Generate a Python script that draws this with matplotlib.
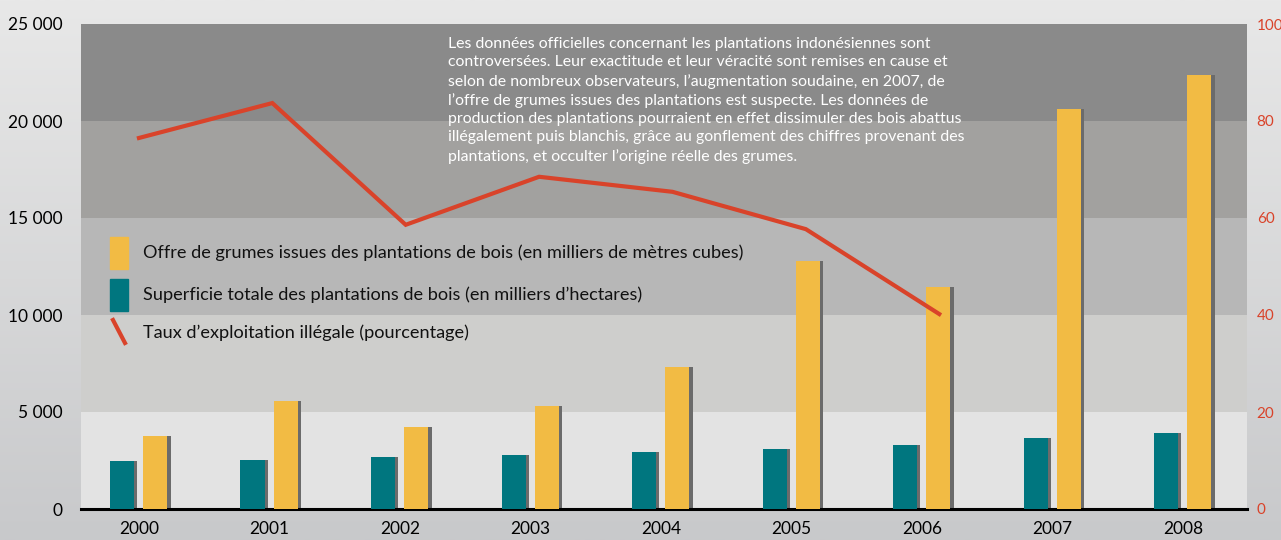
import numpy as np
import matplotlib
matplotlib.use("Agg")
import matplotlib.pyplot as plt
from matplotlib.patches import Rectangle
from matplotlib.lines import Line2D

plt.rcParams['font.family'] = ['Lato', 'DejaVu Sans']

years = ["2000", "2001", "2002", "2003", "2004", "2005", "2006", "2007", "2008"]
superficie = [2480, 2540, 2680, 2780, 2940, 3090, 3300, 3660, 3920]
offre = [3760, 5570, 4230, 5310, 7320, 12780, 11440, 20620, 22370]
taux = [76.5, 83.7, 58.6, 68.5, 65.4, 57.7, 40.2]   # 2000-2006

left_ticks = [0, 5000, 10000, 15000, 20000, 25000]
left_labels = ["0", "5 000", "10 000", "15 000", "20 000", "25 000"]
right_ticks = [0, 20, 40, 60, 80, 100]

note = ("Les données officielles concernant les plantations indonésiennes sont\n"
        "controversées. Leur exactitude et leur véracité sont remises en cause et\n"
        "selon de nombreux observateurs, l\u2019augmentation soudaine, en 2007, de\n"
        "l\u2019offre de grumes issues des plantations est suspecte. Les données de\n"
        "production des plantations pourraient en effet dissimuler des bois abattus\n"
        "illégalement puis blanchis, grâce au gonflement des chiffres provenant des\n"
        "plantations, et occulter l\u2019origine réelle des grumes.")

leg_labels = ["Offre de grumes issues des plantations de bois (en milliers de mètres cubes)",
              "Superficie totale des plantations de bois (en milliers d\u2019hectares)",
              "Taux d\u2019exploitation illégale (pourcentage)"]

TEAL = "#00767f"
YELLOW = "#f2bb44"
SHADOW = "#6b6b6b"
RED = "#d9432a"
bands = ["#e3e3e3", "#cececc", "#b7b7b7", "#a2a19f", "#8a8a8a"]

fig = plt.figure(figsize=(12.81, 5.40), dpi=100)

# background gradient
bg = fig.add_axes([0, 0, 1, 1], zorder=-10)
grad = np.linspace(0, 1, 256).reshape(-1, 1)
cmap = matplotlib.colors.LinearSegmentedColormap.from_list("bg", ["#e8e8e8", "#c8c9cb"])
bg.imshow(grad, aspect="auto", cmap=cmap, extent=[0, 1, 0, 1])
bg.axis("off")

ax = fig.add_axes([81 / 1281, 31 / 540, 1166 / 1281, 485 / 540])
ax.set_xlim(-0.444, 8.49)
ax.set_ylim(0, 25000)
for i, c in enumerate(bands):
    ax.axhspan(i * 5000, (i + 1) * 5000, color=c, lw=0, zorder=0)

x = np.arange(len(years))
w = 0.184
sh = 0.025
ax.bar(x - 0.13 + sh, superficie, w, color=SHADOW, zorder=2)
ax.bar(x - 0.13, superficie, w, color=TEAL, zorder=3)
ax.bar(x + 0.125 + sh, offre, w, color=SHADOW, zorder=2)
ax.bar(x + 0.125, offre, w, color=YELLOW, zorder=3)

for s in ["top", "left", "right"]:
    ax.spines[s].set_visible(False)
ax.spines["bottom"].set_color("black")
ax.spines["bottom"].set_linewidth(2.2)
ax.set_xticks(x)
ax.set_xticklabels(years, fontsize=12.5)
ax.set_yticks(left_ticks)
ax.set_yticklabels(left_labels, fontsize=12.5)
ax.tick_params(axis="x", length=0, pad=9)
ax.tick_params(axis="y", length=0, pad=13)

ax2 = ax.twinx()
ax2.set_ylim(0, 100)
ax2.plot(np.arange(len(taux)) * 1.022, taux, color=RED, lw=3, zorder=5,
         solid_joinstyle="miter")
ax2.set_yticks(right_ticks)
ax2.set_yticklabels([str(t) for t in right_ticks], fontsize=11, color=RED)
ax2.tick_params(length=0, pad=7)
for s in ["top", "left", "right", "bottom"]:
    ax2.spines[s].set_visible(False)

# legend drawn by hand
fig.add_artist(Rectangle((110 / 1281, 1 - 269 / 540), 18 / 1281, 32 / 540,
                         color=YELLOW, transform=fig.transFigure))
fig.add_artist(Rectangle((110 / 1281, 1 - 311 / 540), 18 / 1281, 32 / 540,
                         color=TEAL, transform=fig.transFigure))
fig.add_artist(Line2D([113 / 1281, 125 / 1281], [1 - 320 / 540, 1 - 343 / 540],
                      color=RED, lw=3, transform=fig.transFigure))
for lab, yy in zip(leg_labels, [253, 295, 333]):
    fig.text(143 / 1281, 1 - yy / 540, lab, fontsize=13.1, va="center", ha="left",
             color="#111111")

fig.text(448 / 1281, 1 - 37 / 540, note, fontsize=11.4, color="white", va="top",
         ha="left", linespacing=1.38)

fig.savefig("out.png", dpi=100)
